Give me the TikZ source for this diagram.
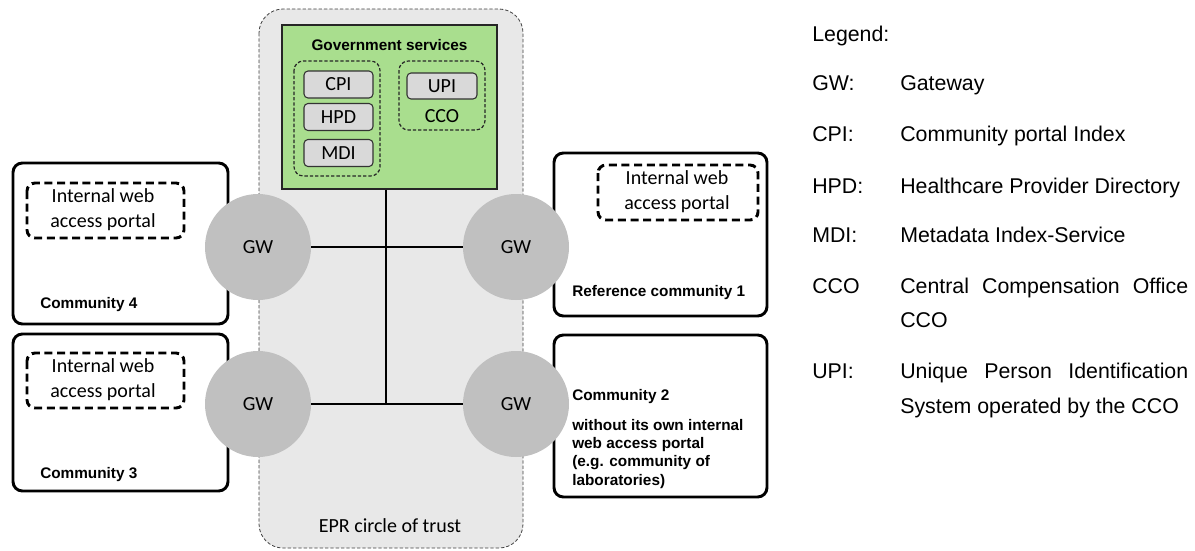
\documentclass[tikz,border=0pt]{standalone}
\usepackage{fontspec}
\usepackage{tikz}
\setmainfont{Liberation Sans}
\newfontfamily\calibri{Carlito}
\definecolor{eprgray}{RGB}{232,232,232}
\definecolor{gwgray}{RGB}{192,192,192}
\definecolor{boxgray}{RGB}{217,217,217}
\definecolor{govgreen}{RGB}{169,222,142}

\begin{document}
\begin{tikzpicture}[x=0.75pt,y=0.75pt,yscale=-1,xscale=1,
  comm/.style={draw=black,line width=2.2pt,rounded corners=7pt},
  portal/.style={draw=black,line width=2.2pt,dash pattern=on 6pt off 3.5pt,rounded corners=6pt},
  group/.style={draw=black!85,line width=0.9pt,dash pattern=on 2.5pt off 1.5pt,rounded corners=7pt},
  svc/.style={draw=black!80,fill=boxgray,line width=0.8pt,rounded corners=3pt,inner sep=0pt,font=\calibri\fontsize{15}{18}\selectfont},
  gw/.style={circle,fill=gwgray,inner sep=0pt,minimum size=79.5pt,font=\calibri\fontsize{15}{18}\selectfont},
  clabel/.style={anchor=west,inner sep=0pt,font=\bfseries\fontsize{11.5}{13.7}\selectfont},
  plabel/.style={align=center,inner sep=0pt,font=\calibri\fontsize{15}{18.75}\selectfont},
  leg/.style={anchor=base west,inner sep=0pt,font=\fontsize{16}{19}\selectfont}]
\path[use as bounding box] (0,0) rectangle (1195,550);

% EPR circle of trust
\draw[fill=eprgray,draw=black!75,line width=0.6pt,dash pattern=on 2.5pt off 1.5pt,rounded corners=18pt] (259,9) rectangle (523,548);
\node[inner sep=0pt,font=\calibri\fontsize{15}{18}\selectfont] (epr) at (390,526) {EPR circle of trust};

% Government services
\node[draw=black!85,fill=govgreen,line width=0.8pt,minimum width=161.25pt,minimum height=123pt,inner sep=0pt] (gov) at (389.5,107) {};
\node[inner sep=0pt,font=\bfseries\fontsize{11.5}{13.7}\selectfont] (govtxt) at (389.5,45) {Government services};
\draw[group] (294,61) rectangle (380,176);
\draw[group] (399,61) rectangle (485,130);
\node[svc,minimum width=51.75pt,minimum height=20.25pt] (cpi) at (338.5,84.5) {CPI};
\node[svc,minimum width=51.75pt,minimum height=20.25pt] (hpd) at (338.5,117) {HPD};
\node[svc,minimum width=51.75pt,minimum height=20.25pt] (mdi) at (338.5,153) {MDI};
\node[svc,minimum width=52.5pt,minimum height=19.5pt] (upi) at (442,86) {UPI};
\node[inner sep=0pt,font=\calibri\fontsize{15}{18}\selectfont] (cco) at (442,116) {CCO};

% Communities
\draw[comm,fill=white] (13,163) rectangle (228,324);
\draw[comm,fill=white] (13,334) rectangle (228,491);
\draw[comm,fill=white] (554,153) rectangle (767,316);
\draw[comm,fill=white] (554,335) rectangle (767,497);
\draw[portal] (27,183) rectangle (184,238);
\draw[portal] (27,353) rectangle (184,408);
\draw[portal] (598,165) rectangle (758,220);
\node[plabel] (p4) at (103,210) {Internal web\\access portal};
\node[plabel] (p3) at (103,380) {Internal web\\access portal};
\node[plabel] (p1) at (677,192) {Internal web\\access portal};
\node[clabel] (c4) at (40,305) {Community 4};
\node[clabel] (c3) at (40,475) {Community 3};
\node[clabel] (r1) at (572,293) {Reference community 1};
\node[clabel] (c2) at (572,397) {Community 2};
\node[clabel,anchor=north west,align=left] (c2txt) at (572,419) {without its own internal\\web access portal\\(e.g. community of\\laboratories)};

% Gateways
\node[gw] (gw4) at (258,247) {GW};
\node[gw] (gw1) at (516,247) {GW};
\node[gw] (gw3) at (258,404) {GW};
\node[gw] (gw2) at (516,404) {GW};
\coordinate (hub) at (386,404);

% Connection
\draw[line width=0.8pt] (gw4) -- (gw1);
\draw[line width=0.8pt] (gw3) -- (gw2);
\draw[line width=0.8pt] (gov.south -| hub) -- (hub);

% Legend
\node[leg] (legend) at (812,41) {Legend:};
\node[leg] (kgw) at (812,90) {GW:};
\node[leg] (vgw) at (900,90) {Gateway};
\node[leg] (kcpi) at (812,141) {CPI:};
\node[leg] (vcpi) at (900,141) {Community portal Index};
\node[leg] (khpd) at (812,193) {HPD:};
\node[leg] (vhpd) at (900,193) {Healthcare Provider Directory};
\node[leg] (kmdi) at (812,242) {MDI:};
\node[leg] (vmdi) at (900,242) {Metadata Index-Service};
\node[leg] (kcco) at (812,293) {CCO};
\node[leg] (vcco) at (900,293) {\makebox[216pt][s]{Central Compensation Office}};
\node[leg] (vcco2) at (900,327) {CCO};
\node[leg] (kupi) at (812,378) {UPI:};
\node[leg] (vupi) at (900,378) {\makebox[216pt][s]{Unique Person Identification}};
\node[leg] (vupi2) at (900,413) {System operated by the CCO};

\end{tikzpicture}
\end{document}
